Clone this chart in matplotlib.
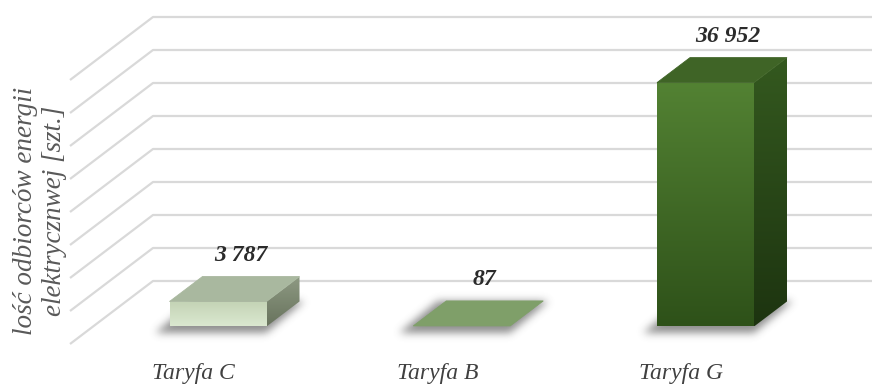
import numpy as np
import matplotlib
matplotlib.use("Agg")
import matplotlib.pyplot as plt
from matplotlib.patches import Polygon
from matplotlib.path import Path

# ---- data ----
categories = ["Taryfa C", "Taryfa B", "Taryfa G"]
values = [3787, 87, 36952]
value_labels = ["3 787", "87", "36 952"]
grid_values = [5000, 10000, 15000, 20000, 25000, 30000, 35000, 40000, 45000]
y_label = "lość odbiorców energii\nelektrycznwej [szt.]"

# ---- figure / projection setup (pixel based pseudo-3D) ----
W, H = 872, 385
DPI = 100
fig = plt.figure(figsize=(W / DPI, H / DPI), dpi=DPI)
ax = fig.add_axes([0, 0, 1, 1])
ax.set_axis_off()

cat_x0, cat_step = 234.5, 243.75          # first category (depth centre), spacing in px
floor_px, top_px, vmax = 71.0, 368.0, 45000.0
vscale = vmax / (top_px - floor_px)
ax.set_xlim(-cat_x0 / cat_step, (W - cat_x0) / cat_step)
ax.set_ylim(-floor_px * vscale, (H - floor_px) * vscale)

half_w = 48.5            # half bar width (px)
dep = np.array([16.5, 12.5])   # half bar depth offset (px, right/up)
wall_left = 153.0
wall_depth = np.array([83.0, 63.0])

serif = ["Liberation Serif", "DejaVu Serif"]


def to_disp(x, y):
    return ax.transData.transform((x, y))


def to_data(pts):
    return ax.transData.inverted().transform(np.asarray(pts, float))


# ---- back wall gridlines + side wall diagonals ----
grid_col = "#d9d9d9"
for v in grid_values:
    _, gy = to_disp(0, v)
    pts = to_data([[wall_left - wall_depth[0], gy - wall_depth[1]],
                   [wall_left, gy], [W + 5, gy]])
    ax.plot(pts[:, 0], pts[:, 1], color=grid_col, lw=1.6, zorder=1,
            solid_capstyle="butt")

# ---- soft shadows under the bars ----
yy, xx = np.mgrid[0:H, 0:W]
pix = np.column_stack([xx.ravel() + 0.5, yy.ravel() + 0.5])
mask = np.zeros(H * W)
for i, v in enumerate(values):
    cx, yb = to_disp(i, 0)
    fl = np.array([cx - half_w, yb]) - dep
    fr = np.array([cx + half_w, yb]) - dep
    br = np.array([cx + half_w, yb]) + dep
    bl = np.array([cx - half_w, yb]) + dep
    poly = np.array([fl, fr, br, bl]) + np.array([-5, -3])
    c = poly.mean(axis=0)
    poly = c + (poly - c) * np.array([1.14, 1.25])
    poly_top = np.column_stack([poly[:, 0], H - poly[:, 1]])
    mask = np.maximum(mask, Path(poly_top).contains_points(pix).astype(float))
mask = mask.reshape(H, W)
sig = 4.0
k = np.arange(-12, 13)
ker = np.exp(-k ** 2 / (2 * sig ** 2))
ker /= ker.sum()
mask = np.apply_along_axis(lambda r: np.convolve(r, ker, mode="same"), 1, mask)
mask = np.apply_along_axis(lambda c_: np.convolve(c_, ker, mode="same"), 0, mask)
shadow = np.zeros((H, W, 4))
shadow[..., :3] = 0.33
shadow[..., 3] = mask * 0.65
x0, x1 = ax.get_xlim()
y0, y1 = ax.get_ylim()
ax.imshow(shadow, extent=(x0, x1, y0, y1), origin="upper", aspect="auto",
          zorder=2, interpolation="bilinear")
ax.set_xlim(x0, x1)
ax.set_ylim(y0, y1)


def grad_fill(poly_disp, c_start, c_end, direction="v", z=3):
    """Fill a polygon (display px) with a linear gradient."""
    pts = to_data(poly_disp)
    patch = Polygon(pts, closed=True, facecolor="none", edgecolor="none", zorder=z)
    ax.add_patch(patch)
    c_start = np.array(matplotlib.colors.to_rgb(c_start))
    c_end = np.array(matplotlib.colors.to_rgb(c_end))
    t = np.linspace(0, 1, 256)
    if direction == "v":      # c_start at top, c_end at bottom
        img = (c_start[None, :] * (1 - t[:, None]) + c_end[None, :] * t[:, None])[:, None, :]
    else:                     # c_start at left, c_end at right
        img = (c_start[None, :] * (1 - t[:, None]) + c_end[None, :] * t[:, None])[None, :, :]
    xmin, ymin = pts.min(axis=0)
    xmax, ymax = pts.max(axis=0)
    im = ax.imshow(img, extent=(xmin, xmax, ymin, ymax), origin="upper",
                   aspect="auto", zorder=z, interpolation="bilinear")
    im.set_clip_path(patch)
    ax.set_xlim(x0, x1)
    ax.set_ylim(y0, y1)


# face colours: (front top, front bottom), top, (side top, side bottom)
styles = [
    dict(front=("#c3d3b5", "#dbe8d0"), top="#a9b89f", side=("#8e9a83", "#68735d")),
    dict(front=("#7f9f69", "#7f9f69"), top="#7f9f69", side=("#6e8d5a", "#5a7548")),
    dict(front=("#538233", "#2e5119"), top="#3f6426", side=("#34591f", "#1d3410")),
]

for i, v in enumerate(values):
    cx, yb = to_disp(i, 0)
    _, yt = to_disp(i, v)
    st = styles[i]
    fbl = np.array([cx - half_w, yb]) - dep
    fbr = np.array([cx + half_w, yb]) - dep
    ftl = np.array([cx - half_w, yt]) - dep
    ftr = np.array([cx + half_w, yt]) - dep
    bbr = fbr + 2 * dep
    btr = ftr + 2 * dep
    btl = ftl + 2 * dep
    if yt - yb > 1.0:
        grad_fill([fbl, fbr, ftr, ftl], st["front"][0], st["front"][1], "v", z=4)
        grad_fill([fbr, bbr, btr, ftr], st["side"][0], st["side"][1], "v", z=4)
    top = Polygon(to_data([ftl, ftr, btr, btl]), closed=True,
                  facecolor=st["top"], edgecolor=st["top"], lw=0.6, zorder=5)
    ax.add_patch(top)

    # value label above the bar
    lx, ly = cx + 6, btr[1] + 21
    ax.text(*to_data([[lx, ly]])[0], value_labels[i], ha="center", va="center",
            family=serif, style="italic", weight="bold", fontsize=17,
            color="#2b2b2b", zorder=6)

    # category label in front of the floor
    tx, ty = cx - 41, 12
    ax.text(*to_data([[tx, ty]])[0], categories[i], ha="center", va="center",
            family=serif, style="italic", fontsize=17, color="#404040", zorder=6)

# axis title
ax.text(*to_data([[40, H - 211]])[0], y_label, rotation=90, ha="center",
        va="center", multialignment="center", family=serif, style="italic",
        fontsize=19.5, color="#595959", linespacing=1.25)

fig.savefig("out.png", dpi=DPI)
